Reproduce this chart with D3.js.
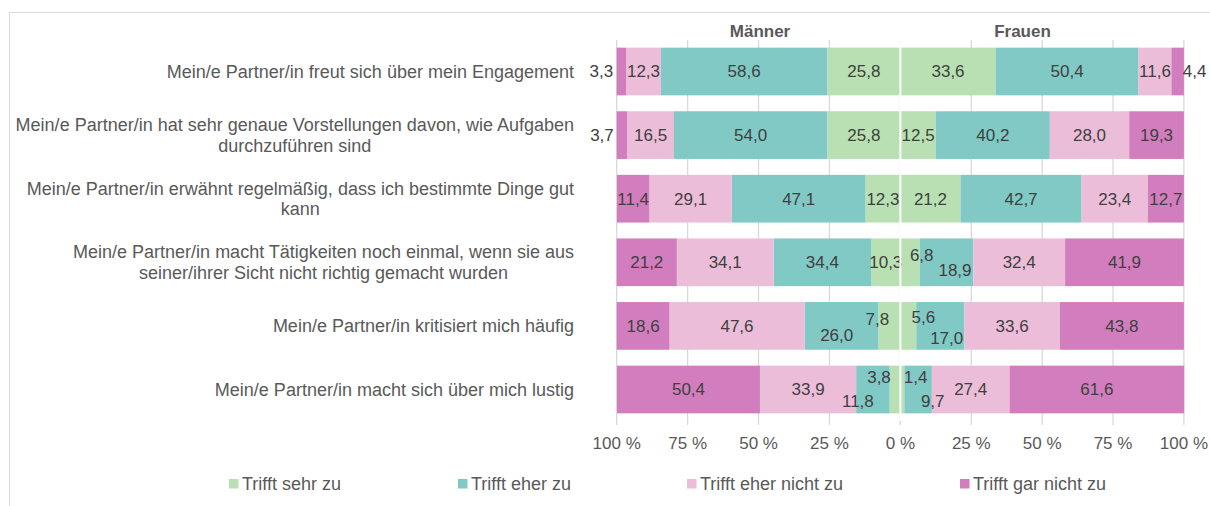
<!DOCTYPE html>
<html>
<head>
<meta charset="utf-8">
<script src="https://cdn.jsdelivr.net/npm/d3@7"></script>
<style>
  html, body { margin: 0; padding: 0; background: #fff; }
  svg { display: block; font-family: "Liberation Sans", Arial, sans-serif; }
</style>
</head>
<body>
<svg id="chart" width="1210" height="506"></svg>
<script>
// ---------- DATA ----------
const categories = [
  "Mein/e Partner/in freut sich über mein Engagement",
  "Mein/e Partner/in hat sehr genaue Vorstellungen davon, wie Aufgaben|durchzuführen sind",
  "Mein/e Partner/in erwähnt regelmäßig, dass ich bestimmte Dinge gut|kann",
  "Mein/e Partner/in macht Tätigkeiten noch einmal, wenn sie aus|seiner/ihrer Sicht nicht richtig gemacht wurden",
  "Mein/e Partner/in kritisiert mich häufig",
  "Mein/e Partner/in macht sich über mich lustig"
];
const seriesNames = ["Trifft sehr zu", "Trifft eher zu", "Trifft eher nicht zu", "Trifft gar nicht zu"];
const groups = ["Männer", "Frauen"];

// Männer
const menSehr      = [25.8, 25.8, 12.3, 10.3, 7.8, 3.8];
const menEher      = [58.6, 54.0, 47.1, 34.4, 26.0, 11.8];
const menEherNicht = [12.3, 16.5, 29.1, 34.1, 47.6, 33.9];
const menGarNicht  = [3.3, 3.7, 11.4, 21.2, 18.6, 50.4];
// Frauen
const womenSehr      = [33.6, 12.5, 21.2, 6.8, 5.6, 1.4];
const womenEher      = [50.4, 40.2, 42.7, 18.9, 17.0, 9.7];
const womenEherNicht = [11.6, 28.0, 23.4, 32.4, 33.6, 27.4];
const womenGarNicht  = [4.4, 19.3, 12.7, 41.9, 43.8, 61.6];

const tickValues = [0, 25, 50, 75, 100];

// ---------- STYLE ----------
const colors = ["#b8e0b3", "#80c9c5", "#ecbdd9", "#d27ebe"];
const textCol = "#595959";
const labelCol = "#404040";
const FS = 17;
const FS_CAT = 18;

// label nudges (px) for crowded labels: key "group-row-series"
const nudge = {
  "0-0-3": { dx: -20, dy: 0 },
  "1-0-3": { dx: 17, dy: 0 },
  "0-1-3": { dx: -20, dy: 0 },
  "1-3-0": { dx: 11.7, dy: -7.7 },
  "1-3-1": { dx: 8.5, dy: 7.3 },
  "0-4-0": { dx: -12, dy: -7 },
  "0-4-1": { dx: -4.7, dy: 9 },
  "1-4-0": { dx: 15, dy: -8.7 },
  "1-4-1": { dx: 6.3, dy: 12.3 },
  "0-5-0": { dx: -16, dy: -12 },
  "0-5-1": { dx: -15, dy: 11.5 },
  "1-5-0": { dx: 13.3, dy: -12 },
  "1-5-1": { dx: 14.6, dy: 11.5 }
};

const svg = d3.select("#chart");

// frame
svg.append("rect").attr("x", 9.5).attr("y", 12.5).attr("width", 1300).attr("height", 600)
  .attr("fill", "none").attr("stroke", "#d9d9d9").attr("stroke-width", 1);

const center = 900.4;
const xMen = d3.scaleLinear().domain([0, 100]).range([center, 616.7]);
const xWomen = d3.scaleLinear().domain([0, 100]).range([center, 1183.9]);
const y = d3.scaleBand().domain(d3.range(categories.length)).range([39.7, 421.3]).paddingInner(0.25).paddingOuter(0.125);

// gridlines + ticks
const gridG = svg.append("g");
[xMen, xWomen].forEach(sc => {
  tickValues.forEach(t => {
    gridG.append("line").attr("x1", sc(t)).attr("x2", sc(t))
      .attr("y1", 40).attr("y2", 425)
      .attr("stroke", "#d9d9d9").attr("stroke-width", 1.3);
  });
});

// axis labels
const fmtTick = d => d + " %";
const axG = svg.append("g");
const tickSet = [];
tickValues.slice().reverse().forEach(t => tickSet.push({ v: t, sc: xMen }));
tickValues.slice(1).forEach(t => tickSet.push({ v: t, sc: xWomen }));
axG.selectAll("text").data(tickSet).join("text")
  .attr("x", d => d.sc(d.v)).attr("y", 449)
  .attr("text-anchor", "middle").attr("font-size", FS).attr("fill", textCol)
  .text(d => fmtTick(d.v));

// bars
const menSeries = [menSehr, menEher, menEherNicht, menGarNicht];
const womenSeries = [womenSehr, womenEher, womenEherNicht, womenGarNicht];

function stackRows(seriesArr) {
  const out = [];
  categories.forEach((c, i) => {
    let acc = 0;
    seriesArr.forEach((s, k) => {
      out.push({ row: i, k: k, v: s[i], x0: acc, x1: acc + s[i] });
      acc += s[i];
    });
  });
  return out;
}

const barG = svg.append("g");
const lblG = svg.append("g");
[[stackRows(menSeries), xMen, 0], [stackRows(womenSeries), xWomen, 1]].forEach(([segs, sc, g]) => {
  barG.append("g").selectAll("rect").data(segs).join("rect")
    .attr("x", d => Math.min(sc(d.x0), sc(d.x1)))
    .attr("width", d => Math.abs(sc(d.x1) - sc(d.x0)))
    .attr("y", d => y(d.row))
    .attr("height", y.bandwidth())
    .attr("fill", d => colors[d.k]);
  lblG.append("g").selectAll("text").data(segs).join("text")
    .attr("x", d => sc((d.x0 + d.x1) / 2) + ((nudge[g + "-" + d.row + "-" + d.k] || {}).dx || 0))
    .attr("y", d => y(d.row) + y.bandwidth() / 2 + ((nudge[g + "-" + d.row + "-" + d.k] || {}).dy || 0))
    .attr("dy", "0.35em")
    .attr("text-anchor", "middle").attr("font-size", FS).attr("fill", labelCol)
    .text(d => d.v.toFixed(1).replace(".", ","));
});

// center gap
svg.append("line").attr("x1", center).attr("x2", center)
  .attr("y1", 40).attr("y2", 421).attr("stroke", "#fff").attr("stroke-width", 2);

// group titles
svg.append("text").attr("x", 760).attr("y", 37)
  .attr("text-anchor", "middle").attr("font-size", FS).attr("font-weight", "bold").attr("fill", textCol)
  .text(groups[0]);
svg.append("text").attr("x", 1022.5).attr("y", 37)
  .attr("text-anchor", "middle").attr("font-size", FS).attr("font-weight", "bold").attr("fill", textCol)
  .text(groups[1]);

// category labels
const catG = svg.append("g");
categories.forEach((c, i) => {
  const lines = c.split("|");
  const lh = 20.5;
  const cy = y(i) + y.bandwidth() / 2;
  const t = catG.append("text").attr("text-anchor", "end").attr("font-size", FS_CAT).attr("fill", textCol);
  lines.forEach((ln, j) => {
    t.append("tspan").attr("x", 574)
      .attr("y", cy + (j - (lines.length - 1) / 2) * lh)
      .attr("dy", "0.35em")
      .text(ln);
  });
  if (lines.length > 1) {
    const tsp = t.selectAll("tspan").nodes();
    const w0 = tsp[0].getComputedTextLength();
    tsp.forEach((n, j) => {
      if (j > 0) d3.select(n).attr("text-anchor", "middle").attr("x", 574 - w0 / 2);
    });
  }
});

// legend
const legX = [229, 458, 687, 960];
const legG = svg.append("g");
seriesNames.forEach((s, k) => {
  legG.append("rect").attr("x", legX[k]).attr("y", 479).attr("width", 9.5).attr("height", 9.5).attr("fill", colors[k]);
  legG.append("text").attr("x", legX[k] + 13).attr("y", 489.5).attr("font-size", FS_CAT).attr("fill", textCol).text(s);
});
</script>
</body>
</html>
